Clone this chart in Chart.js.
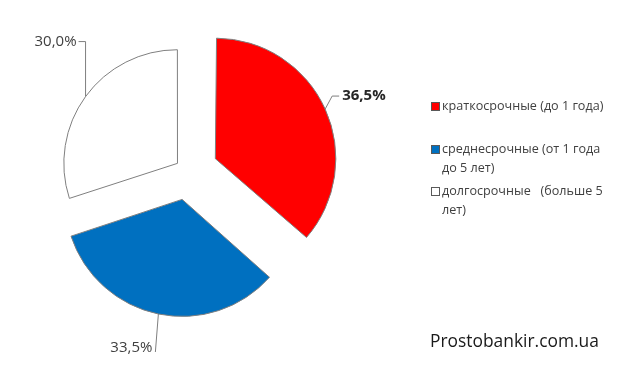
<!DOCTYPE html>
<html>
<head>
<meta charset="utf-8">
<script src="https://cdn.jsdelivr.net/npm/chart.js@4"></script>
<style>
  body { margin: 0; background: #fff; }
  #wrap { position: relative; width: 640px; height: 367px; font-family: "Open Sans", sans-serif; }
  #legend { position: absolute; left: 430px; top: 96px; font-size: 12.6px; color: #404040; }
  .item { position: absolute; left: 0; white-space: pre; line-height: 19px; padding-left: 12px; }
  .box { position: absolute; left: 1px; top: 6px; width: 7px; height: 7px; border: 1px solid #595959; }
  #site { position: absolute; left: 430px; top: 328px; font-size: 17.4px; color: #1a1a1a; }
</style>
</head>
<body>
<div id="wrap">
  <canvas id="pie" width="640" height="367"></canvas>
  <div id="legend"></div>
  <div id="site">Prostobankir.com.ua</div>
</div>
<script>
// Data
const labelLines = [
    ['краткосрочные (до 1 года)'],
    ['среднесрочные (от 1 года', 'до 5 лет)'],
    ['долгосрочные   (больше 5', 'лет)']
];
const shares = [36.5, 33.5, 30.0];
const colors = ['#ff0000', '#0070c0', '#ffffff'];

// Slice explosion (Chart.js shifts each slice by offset / 4)
const explode = [120, 116, 52];

// Leader lines relative to the point on the arc at mid angle
const leaders = [
    { bx: 7, by: -13, ex: 14, ey: -13, tx: 3, ty: 0, align: 'left', bold: true },
    { bx: -3, by: 38, ex: -3, ey: 38, tx: -3, ty: -4, align: 'right', bold: false },
    { bx: 0, by: -55, ex: -7, ey: -55, tx: -2, ty: 0, align: 'right', bold: false }
];

const valueLabels = {
    id: 'valueLabels',
    afterDatasetsDraw(chart) {
        const ctx = chart.ctx;
        chart.getDatasetMeta(0).data.forEach((arc, i) => {
            const p = arc.getProps(['x', 'y', 'startAngle', 'endAngle', 'outerRadius', 'circumference']);
            const mid = (p.startAngle + p.endAngle) / 2;
            const shift = explode[i] / 4;
            const fix = 1 - Math.sin(Math.min(Math.PI, p.circumference));
            const r = p.outerRadius + shift * fix;
            const ax = p.x + Math.cos(mid) * (shift + r);
            const ay = p.y + Math.sin(mid) * (shift + r);
            const l = leaders[i];

            ctx.save();
            ctx.strokeStyle = '#7f7f7f';
            ctx.lineWidth = 1;
            ctx.beginPath();
            ctx.moveTo(ax, ay);
            ctx.lineTo(ax + l.bx, ay + l.by);
            ctx.lineTo(ax + l.ex, ay + l.ey);
            ctx.stroke();

            ctx.font = (l.bold ? 'bold ' : '') + '15px "Open Sans"';
            ctx.fillStyle = l.bold ? '#262626' : '#404040';
            ctx.textAlign = l.align;
            ctx.textBaseline = 'middle';
            ctx.fillText(shares[i].toFixed(1).replace('.', ',') + '%', ax + l.ex + l.tx, ay + l.ey + l.ty);
            ctx.restore();
        });
    }
};

new Chart(document.getElementById('pie').getContext('2d'), {
    type: 'pie',
    data: {
        labels: labelLines.map(l => l.join(' ')),
        datasets: [{
            data: shares,
            backgroundColor: colors,
            borderColor: '#7f7f7f',
            borderWidth: 1,
            offset: explode
        }]
    },
    options: {
        responsive: false,
        animation: false,
        events: [],
        radius: 113,
        layout: { padding: { left: 0, top: 0, right: 264, bottom: 25 } },
        plugins: {
            legend: { display: false },
            tooltip: { enabled: false }
        }
    },
    plugins: [valueLabels]
});

// Legend
const legendTops = [0, 43, 85];
const legend = document.getElementById('legend');
labelLines.forEach((lines, i) => {
    const item = document.createElement('div');
    item.className = 'item';
    item.style.top = legendTops[i] + 'px';
    const box = document.createElement('span');
    box.className = 'box';
    box.style.background = colors[i];
    item.appendChild(box);
    item.appendChild(document.createTextNode(lines.join('\n')));
    legend.appendChild(item);
});
</script>
</body>
</html>
